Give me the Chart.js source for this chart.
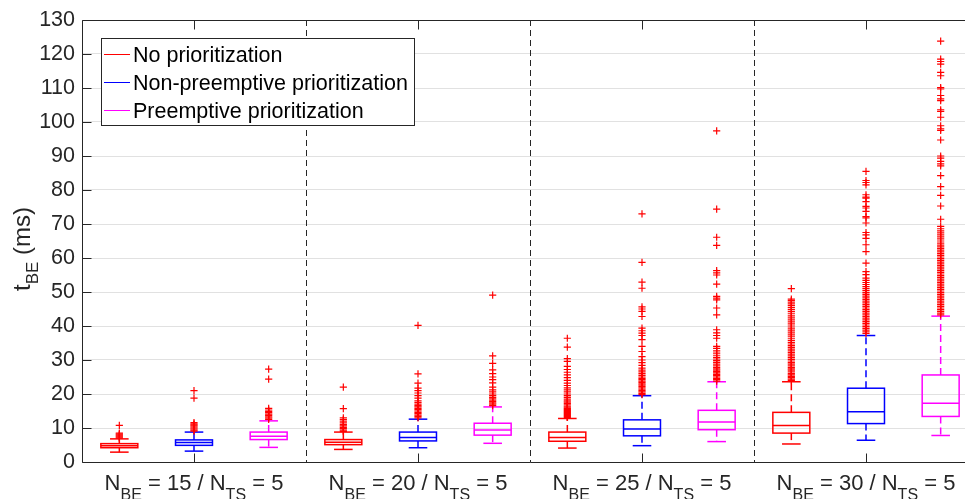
<!DOCTYPE html>
<html>
<head>
<meta charset="utf-8">
<script src="https://cdn.jsdelivr.net/npm/chart.js@4.4.0/dist/chart.umd.min.js"></script>
<style>
  html, body { margin: 0; padding: 0; background: #fff; overflow: hidden; }
  #wrap { width: 990px; height: 499px; }
</style>
</head>
<body>
<div id="wrap"><canvas id="boxChart"></canvas></div>
<script>
// ------------------------------
//  Data
// ------------------------------
const nBE = [15, 20, 25, 30];
const nTS = [5, 5, 5, 5];
const seriesNames = ["No prioritization", "Non-preemptive prioritization", "Preemptive prioritization"];
const seriesColors = ["#ff0000", "#0000ff", "#ff00ff"];
const yTicks = [0, 130, 10]; // min, max, step

// No prioritization
const noPrioLow = [2.9, 3.7, 4.1, 5.3];
const noPrioQ1 = [4.2, 5.1, 6.1, 8.5];
const noPrioMed = [4.8, 5.8, 7.2, 10.7];
const noPrioQ3 = [5.4, 6.6, 8.8, 14.6];
const noPrioHigh = [6.8, 8.8, 12.8, 23.6];
const noPrioOut = [
  [7.0, 7.3, 7.6, 7.9, 8.2, 8.5, 10.8],
  [9.0, 9.4, 9.8, 10.2, 10.6, 11.0, 11.5, 12.0, 12.5, 13.0, 15.7, 22.0],
  [13.1, 13.4, 13.7, 14.0, 14.3, 14.6, 14.9, 15.2, 15.5, 15.8, 16.1, 16.4, 16.8, 17.2, 17.6, 18.0,
   18.5, 19.0, 19.5, 20.0, 20.6, 21.2, 21.8, 22.5, 23.2, 24.0, 24.8, 25.6, 26.4, 27.2, 28.1, 29.6,
   30.4, 33.8, 36.4],
  [24.0, 24.4, 24.8, 25.2, 25.6, 26.0, 26.5, 27.0, 27.4, 27.8, 28.3, 28.8, 29.2, 29.7, 30.2, 30.7,
   31.2, 31.7, 32.2, 32.7, 33.2, 33.7, 34.2, 34.7, 35.2, 35.8, 36.4, 37.0, 37.6, 38.2, 38.8, 39.4,
   40.0, 40.6, 41.2, 41.8, 42.4, 43.0, 43.6, 44.2, 44.8, 45.4, 46.0, 46.5, 47.0, 47.5, 47.9, 51.0]
];

// Non-preemptive prioritization
const nonPreLow = [3.2, 4.2, 4.8, 6.4];
const nonPreQ1 = [4.9, 6.2, 7.7, 11.3];
const nonPreMed = [5.7, 7.2, 9.7, 14.8];
const nonPreQ3 = [6.5, 8.8, 12.4, 21.7];
const nonPreHigh = [8.8, 12.6, 19.5, 37.2];
const nonPreOut = [
  [9.1, 9.4, 9.7, 10.0, 10.3, 10.6, 10.9, 11.2, 11.6, 18.8, 21.0],
  [13.0, 13.4, 13.8, 14.2, 14.6, 15.0, 15.4, 15.8, 16.2, 16.6, 17.0, 17.5, 18.0, 18.8, 19.5, 20.3,
   21.0, 21.7, 23.2, 25.9, 40.2],
  [19.8, 20.2, 20.6, 21.0, 21.4, 21.8, 22.2, 22.6, 23.0, 23.4, 23.8, 24.2, 24.6, 25.0, 25.5, 26.0,
   26.5, 27.0, 27.6, 28.4, 29.2, 30.0, 31.0, 32.5, 34.0, 36.0, 37.2, 37.9, 38.6, 39.4, 42.8, 44.3,
   45.0, 45.6, 51.1, 52.9, 58.7, 73.0],
  [37.8, 38.3, 38.8, 39.3, 39.8, 40.3, 40.8, 41.3, 41.8, 42.3, 42.8, 43.3, 43.8, 44.3, 44.8, 45.3,
   45.8, 46.3, 46.8, 47.3, 47.8, 48.3, 48.8, 49.3, 49.8, 50.4, 51.0, 51.6, 52.2, 52.8, 53.4, 54.1,
   55.1, 56.0, 58.5, 61.9, 63.9, 65.8, 66.8, 67.5, 70.3, 71.8, 72.2, 73.7, 74.7, 75.2, 76.6, 77.6,
   77.9, 78.6, 81.5, 82.2, 82.8, 85.5]
];

// Preemptive prioritization
const preLow = [4.3, 5.5, 6.0, 7.8];
const preQ1 = [6.6, 7.9, 9.5, 13.4];
const preMed = [7.6, 9.4, 11.8, 17.3];
const preQ3 = [8.8, 11.4, 15.2, 25.6];
const preHigh = [12.1, 16.2, 23.6, 42.9];
const preOut = [
  [12.5, 12.9, 13.3, 13.7, 14.1, 14.5, 14.9, 15.3, 15.8, 24.4, 27.3],
  [16.6, 17.0, 17.4, 17.8, 18.2, 18.6, 19.0, 19.5, 20.0, 20.6, 21.2, 22.0, 23.3, 24.2, 25.0, 26.0,
   27.1, 29.0, 31.2, 49.1],
  [23.8, 24.2, 24.6, 25.0, 25.4, 25.8, 26.2, 26.6, 27.0, 27.4, 27.8, 28.3, 28.8, 29.3, 29.8, 30.3,
   30.8, 31.4, 32.0, 32.7, 33.4, 34.0, 36.4, 37.2, 38.0, 38.9, 43.3, 45.3, 47.7, 48.2, 48.7, 52.3,
   55.0, 55.6, 56.3, 63.7, 66.1, 74.4, 97.4],
  [43.3, 43.8, 44.3, 44.8, 45.3, 45.8, 46.3, 46.8, 47.3, 47.8, 48.3, 48.8, 49.3, 49.8, 50.3, 50.8,
   51.3, 51.8, 52.3, 52.8, 53.3, 53.8, 54.3, 54.8, 55.3, 55.8, 56.3, 56.8, 57.3, 57.8, 58.3, 58.8,
   59.3, 59.8, 60.3, 60.8, 61.3, 61.8, 62.3, 62.8, 63.3, 63.8, 64.4, 65.0, 65.6, 66.2, 66.8, 67.4,
   68.0, 68.6, 69.3, 71.4, 75.3, 78.4, 81.0, 84.2, 87.1, 87.7, 88.4, 89.4, 90.0, 94.7, 97.5, 98.0,
   98.9, 101.4, 103.1, 103.6, 106.3, 106.8, 107.8, 109.7, 110.1, 113.6, 114.6, 117.0, 117.8, 118.5,
   123.8]
];

const series = [
  { low: noPrioLow, q1: noPrioQ1, med: noPrioMed, q3: noPrioQ3, high: noPrioHigh, out: noPrioOut },
  { low: nonPreLow, q1: nonPreQ1, med: nonPreMed, q3: nonPreQ3, high: nonPreHigh, out: nonPreOut },
  { low: preLow, q1: preQ1, med: preMed, q3: preQ3, high: preHigh, out: preOut }
];

// ------------------------------
//  Layout helpers
// ------------------------------
const FONT = "'Liberation Sans', Arial, sans-serif";
const AXIS_COLOR = "#262626";
const boxOffsets = [-1 / 3, 0, 1 / 3];
const boxWidth = 0.165;
const capWidth = 0.083;

function hLine(ctx, x1, x2, y) {
  ctx.beginPath(); ctx.moveTo(x1, y); ctx.lineTo(x2, y); ctx.stroke();
}
function vLine(ctx, x, y1, y2) {
  ctx.beginPath(); ctx.moveTo(x, y1); ctx.lineTo(x, y2); ctx.stroke();
}

// texte avec indices (N_BE, t_BE ...)
function drawParts(ctx, parts, x, y, main, sub, subShift) {
  let w = 0;
  parts.forEach(p => { ctx.font = (p.sub ? sub : main) + "px " + FONT; w += ctx.measureText(p.t).width; });
  let cx = x - w / 2;
  parts.forEach(p => {
    ctx.font = (p.sub ? sub : main) + "px " + FONT;
    ctx.fillText(p.t, cx, y + (p.sub ? subShift : 0));
    cx += ctx.measureText(p.t).width;
  });
}

// ------------------------------
//  Box plot plugin
// ------------------------------
const boxPlugin = {
  id: "boxPlugin",
  beforeDatasetsDraw(chart) {
    const { ctx, chartArea, scales: { x, y } } = chart;
    ctx.save();

    // separateurs entre groupes
    ctx.strokeStyle = AXIS_COLOR;
    ctx.lineWidth = 1;
    ctx.setLineDash([6, 4]);
    for (let g = 1; g < nBE.length; g++) {
      const px = Math.round(x.getPixelForValue(g + 0.5)) + 0.5;
      vLine(ctx, px, chartArea.top, chartArea.bottom);
    }

    series.forEach((s, si) => {
      ctx.strokeStyle = seriesColors[si];
      ctx.lineWidth = 1.5;
      s.med.forEach((m, g) => {
        const c = g + 1 + boxOffsets[si];
        const xc = x.getPixelForValue(c);
        const xl = x.getPixelForValue(c - boxWidth / 2);
        const xr = x.getPixelForValue(c + boxWidth / 2);
        const cl = x.getPixelForValue(c - capWidth / 2);
        const cr = x.getPixelForValue(c + capWidth / 2);
        const yLow = y.getPixelForValue(s.low[g]);
        const yQ1 = y.getPixelForValue(s.q1[g]);
        const yMed = y.getPixelForValue(m);
        const yQ3 = y.getPixelForValue(s.q3[g]);
        const yHigh = y.getPixelForValue(s.high[g]);

        // moustaches
        ctx.setLineDash([7, 4]);
        vLine(ctx, xc, yQ3, yHigh);
        vLine(ctx, xc, yQ1, yLow);
        ctx.setLineDash([]);
        hLine(ctx, cl, cr, yHigh);
        hLine(ctx, cl, cr, yLow);

        // boite + mediane
        ctx.strokeRect(xl, yQ3, xr - xl, yQ1 - yQ3);
        hLine(ctx, xl, xr, yMed);
      });
    });
    ctx.restore();
  },
  afterDraw(chart) {
    const { ctx, chartArea, scales: { x, y } } = chart;
    const L = chartArea.left + 0.5, T = chartArea.top + 0.5, B = chartArea.bottom + 0.5, R = chartArea.right;
    ctx.save();

    // cadre + graduations vers l'interieur
    ctx.strokeStyle = AXIS_COLOR;
    ctx.lineWidth = 1;
    ctx.setLineDash([]);
    vLine(ctx, L, T, B);
    hLine(ctx, L, R, T);
    hLine(ctx, L, R, B);
    for (let v = yTicks[0]; v <= yTicks[1]; v += yTicks[2]) {
      const py = Math.round(y.getPixelForValue(v)) + 0.5;
      hLine(ctx, L, L + 9, py);
    }
    nBE.forEach((n, g) => {
      const px = Math.round(x.getPixelForValue(g + 1)) + 0.5;
      vLine(ctx, px, T, T + 9);
      vLine(ctx, px, B, B - 9);
    });

    // etiquettes de l'axe x
    ctx.fillStyle = AXIS_COLOR;
    ctx.textBaseline = "alphabetic";
    ctx.textAlign = "left";
    nBE.forEach((n, g) => {
      const px = x.getPixelForValue(g + 1);
      drawParts(ctx, [
        { t: "N" }, { t: "BE", sub: true }, { t: " = " + n + " / N" }, { t: "TS", sub: true }, { t: " = " + nTS[g] }
      ], px, 490, 22, 16, 10);
    });

    // titre de l'axe y
    ctx.save();
    ctx.translate(30, 249);
    ctx.rotate(-Math.PI / 2);
    drawParts(ctx, [{ t: "t" }, { t: "BE", sub: true }, { t: " (ms)" }], 0, 0, 24, 17, 8);
    ctx.restore();

    // legende
    const lx = 101.5, ly = 38.5, lw = 313, lh = 87;
    ctx.fillStyle = "#ffffff";
    ctx.fillRect(lx, ly, lw, lh);
    ctx.strokeStyle = AXIS_COLOR;
    ctx.strokeRect(lx, ly, lw, lh);
    ctx.font = "21.5px " + FONT;
    seriesNames.forEach((name, i) => {
      const base = 61.5 + i * 28.2;
      ctx.strokeStyle = seriesColors[i];
      ctx.lineWidth = 1;
      hLine(ctx, 104, 130, Math.round(base - 8) + 0.5);
      ctx.fillStyle = "#000000";
      ctx.fillText(name, 133, base);
    });
    ctx.restore();
  }
};

// ------------------------------
//  Chart
// ------------------------------
const ctx = document.getElementById("boxChart").getContext("2d");

const outlierSets = series.map((s, si) => ({
  label: seriesNames[si],
  data: s.out.flatMap((vals, g) => vals.map(v => ({ x: g + 1 + boxOffsets[si], y: v }))),
  pointStyle: "cross",
  pointRadius: 3.6,
  borderColor: "#ff0000",
  backgroundColor: "#ff0000",
  borderWidth: 1.2,
  showLine: false
}));

const boxChart = new Chart(ctx, {
  type: "scatter",
  data: { datasets: outlierSets },
  options: {
    responsive: true,
    maintainAspectRatio: false,
    devicePixelRatio: 1,
    animation: false,
    events: [],
    layout: { padding: { top: 20, right: 12, left: 0, bottom: 0 } },
    scales: {
      x: {
        type: "linear",
        min: 0.5,
        max: 4.5,
        ticks: { display: false },
        grid: { display: false },
        border: { display: false },
        afterFit: s => { s.height = 37; s.paddingLeft = 0; s.paddingRight = 0; }
      },
      y: {
        min: yTicks[0],
        max: yTicks[1],
        ticks: { stepSize: yTicks[2], color: AXIS_COLOR, padding: 7, font: { family: FONT, size: 21.5 } },
        grid: { color: "#e1e1e1", drawTicks: false },
        border: { display: false },
        afterFit: s => { s.width = 82; s.paddingTop = 0; s.paddingBottom = 0; }
      }
    },
    plugins: {
      legend: { display: false },
      tooltip: { enabled: false }
    }
  },
  plugins: [boxPlugin]
});
</script>
</body>
</html>
